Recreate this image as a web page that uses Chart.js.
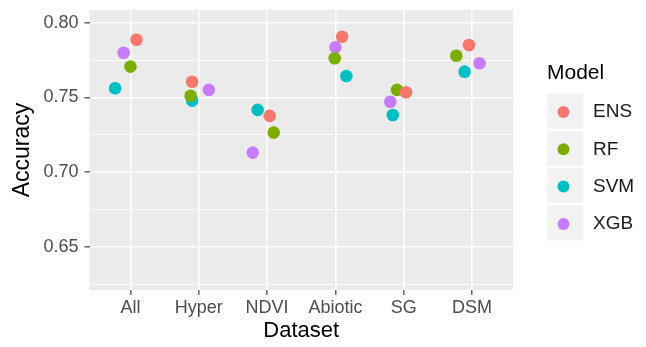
<!DOCTYPE html>
<html>
<head>
<meta charset="utf-8">
<script src="https://cdn.jsdelivr.net/npm/chart.js@4.4.1/dist/chart.umd.min.js"></script>
<style>
  html, body { margin: 0; padding: 0; background: #ffffff; }
  #wrap { width: 646px; height: 347px; position: relative; }
</style>
</head>
<body>
<div id="wrap"><canvas id="c" width="646" height="347"></canvas></div>
<script>
// ---- data ----
const categories = ['All', 'Hyper', 'NDVI', 'Abiotic', 'SG', 'DSM'];
const models = ['ENS', 'RF', 'SVM', 'XGB'];
const modelColors = ['#F8766D', '#7CAE00', '#00BFC4', '#C77CFF'];

// accuracy per dataset (order of categories)
const accENS = [0.7886, 0.7605, 0.7376, 0.7906, 0.7534, 0.7851];
const accRF  = [0.7706, 0.7511, 0.7264, 0.7762, 0.7550, 0.7779];
const accSVM = [0.7561, 0.7478, 0.7416, 0.7643, 0.7382, 0.7672];
const accXGB = [0.7799, 0.7550, 0.7130, 0.7835, 0.7471, 0.7728];

// horizontal jitter (category units)
const jitENS = [0.088, -0.097, 0.038, 0.098, 0.034, -0.044];
const jitRF  = [0.000, -0.120, 0.097, -0.010, -0.098, -0.230];
const jitSVM = [-0.225, -0.097, -0.138, 0.160, -0.160, -0.109];
const jitXGB = [-0.100, 0.147, -0.210, 0.000, -0.197, 0.110];

const yMajorTicks = [0.65, 0.70, 0.75, 0.80];
const yMinorTicks = [0.625, 0.675, 0.725, 0.775];
const yLabels = ['0.65', '0.70', '0.75', '0.80'];

const accAll = [accENS, accRF, accSVM, accXGB];
const jitAll = [jitENS, jitRF, jitSVM, jitXGB];

const datasets = models.map((m, k) => ({
  label: m,
  data: categories.map((c, i) => ({ x: i + 1 + jitAll[k][i], y: accAll[k][i] })),
  backgroundColor: modelColors[k],
  borderColor: modelColors[k],
  borderWidth: 0,
  pointRadius: 6.3,
  pointHoverRadius: 6.3
}));

const FONT = '"Liberation Sans", Arial, Helvetica, sans-serif';

const panelBg = {
  id: 'panelBg',
  beforeDraw(chart) {
    const { ctx, chartArea: a } = chart;
    ctx.save();
    ctx.fillStyle = '#EBEBEB';
    ctx.fillRect(a.left, a.top, a.right - a.left, a.bottom - a.top);
    ctx.restore();
  }
};

const legendPlugin = {
  id: 'ggLegend',
  afterDraw(chart) {
    const ctx = chart.ctx;
    ctx.save();
    ctx.fillStyle = '#000000';
    ctx.font = '21px ' + FONT;
    ctx.textBaseline = 'middle';
    ctx.textAlign = 'left';
    ctx.fillText('Model', 547, 73);
    const top0 = 93.5, pitch = 37.3, boxH = 35, boxW = 36, boxX = 547.3;
    chart.data.datasets.forEach((ds, k) => {
      const y0 = top0 + k * pitch;
      ctx.fillStyle = '#F2F2F2';
      ctx.fillRect(boxX, y0, boxW, boxH);
      ctx.beginPath();
      ctx.fillStyle = ds.backgroundColor;
      ctx.arc(563.5, y0 + boxH / 2 + 1, 6, 0, Math.PI * 2);
      ctx.fill();
      ctx.fillStyle = '#1A1A1A';
      ctx.font = '19px ' + FONT;
      ctx.fillText(ds.label, 593, y0 + boxH / 2 + 1);
    });
    ctx.restore();
  }
};

new Chart(document.getElementById('c'), {
  type: 'scatter',
  data: { datasets },
  options: {
    responsive: false,
    animation: false,
    devicePixelRatio: 1,
    layout: { padding: { top: 10, right: 133, left: 0, bottom: 0 } },
    plugins: { legend: { display: false }, tooltip: { enabled: false } },
    scales: {
      x: {
        type: 'linear',
        min: 0.4,
        max: 6.6,
        afterBuildTicks(scale) { scale.ticks = categories.map((c, i) => ({ value: i + 1 })); },
        afterFit(scale) { scale.height = 57; scale.paddingLeft = 0; scale.paddingRight = 0; },
        ticks: {
          callback: (v) => categories[Math.round(v) - 1] || '',
          color: '#4D4D4D',
          font: { family: FONT, size: 18 },
          padding: 2,
          maxRotation: 0,
          autoSkip: false
        },
        grid: {
          color: '#FFFFFF',
          lineWidth: 1.6,
          tickColor: '#4D4D4D',
          tickLength: 5,
          tickWidth: 1.3
        },
        border: { display: false },
        title: {
          display: true,
          text: 'Dataset',
          color: '#000000',
          font: { family: FONT, size: 22 },
          padding: { top: 0, bottom: 3 }
        }
      },
      y: {
        type: 'linear',
        min: 0.621,
        max: 0.8085,
        afterBuildTicks(scale) {
          const all = yMinorTicks.concat(yMajorTicks).sort((a, b) => a - b);
          scale.ticks = all.map(v => ({ value: v }));
        },
        afterFit(scale) { scale.width = 89.5; scale.paddingTop = 0; scale.paddingBottom = 0; },
        ticks: {
          callback: (v) => {
            const i = yMajorTicks.findIndex(t => Math.abs(t - v) < 1e-6);
            return i >= 0 ? yLabels[i] : '';
          },
          color: '#4D4D4D',
          font: { family: FONT, size: 18 },
          padding: 6,
          autoSkip: false
        },
        grid: {
          color: '#FFFFFF',
          lineWidth: (c) => yMajorTicks.some(t => Math.abs(t - c.tick.value) < 1e-6) ? 1.6 : 0.8,
          tickColor: (c) => yMajorTicks.some(t => Math.abs(t - c.tick.value) < 1e-6) ? '#4D4D4D' : 'rgba(0,0,0,0)',
          tickLength: 5,
          tickWidth: 1.3
        },
        border: { display: false },
        title: {
          display: true,
          text: 'Accuracy',
          color: '#000000',
          font: { family: FONT, size: 23 },
          padding: { top: 9, bottom: 0 }
        }
      }
    }
  },
  plugins: [panelBg, legendPlugin]
});
</script>
</body>
</html>
